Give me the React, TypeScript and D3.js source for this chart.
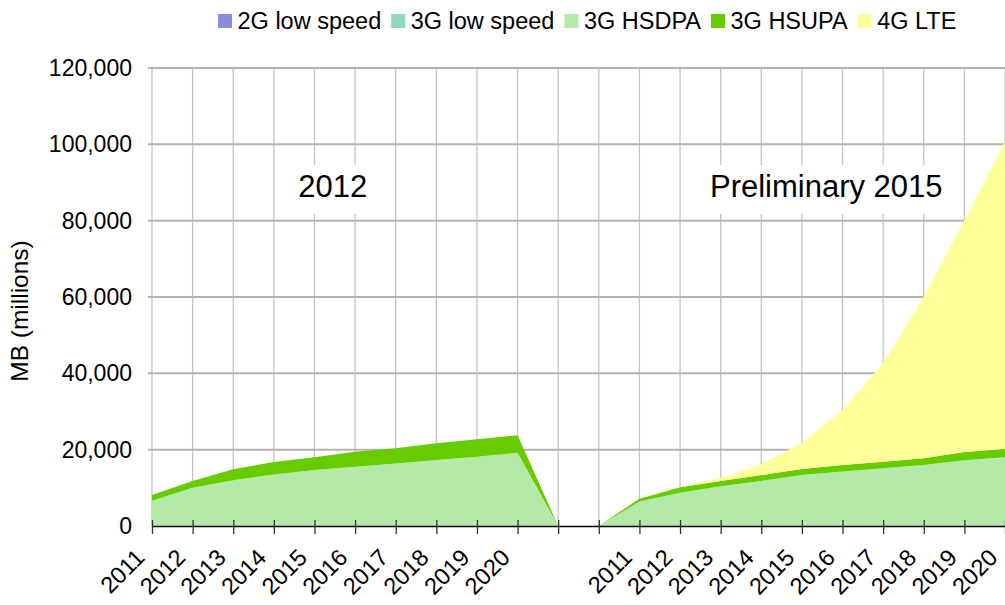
import { useEffect, useRef } from "react";
import * as d3 from "d3";

// categories: two runs of years separated by two blank slots
const categories = [
  "2011", "2012", "2013", "2014", "2015", "2016", "2017", "2018", "2019", "2020",
  "", "",
  "2011", "2012", "2013", "2014", "2015", "2016", "2017", "2018", "2019", "2020",
];

const lowSpeed2G = [0, 0, 0, 0, 0, 0, 0, 0, 0, 0, 0, 0, 0, 0, 0, 0, 0, 0, 0, 0, 0, 0];
const lowSpeed3G = [0, 0, 0, 0, 0, 0, 0, 0, 0, 0, 0, 0, 0, 0, 0, 0, 0, 0, 0, 0, 0, 0];
const hsdpa = [6600, 10000, 12000, 13500, 14700, 15500, 16400, 17300, 18150, 19200, 0, 0,
  6400, 8700, 10400, 11800, 13350, 14250, 15150, 16000, 17200, 18000];
const hsupa = [1500, 1800, 2850, 3300, 3300, 3950, 3950, 4350, 4550, 4600, 0, 0,
  750, 1450, 1400, 1550, 1600, 1750, 1700, 1750, 2200, 2200];
const lte = [0, 0, 0, 0, 0, 0, 0, 0, 0, 0, 0, 0,
  0, 150, 700, 2850, 6850, 14400, 25800, 42400, 60700, 80550];

const seriesNames = ["2G low speed", "3G low speed", "3G HSDPA", "3G HSUPA", "4G LTE"];
const seriesColors = ["#8a8ed8", "#8ed8c0", "#b3eaa8", "#66cc00", "#ffff99"];
const yTicks = [0, 20000, 40000, 60000, 80000, 100000, 120000];

const annotations = [
  { text: "2012", at: 4.45 },
  { text: "Preliminary 2015", at: 16.6 },
];

const FONT = "'Liberation Sans', Arial, sans-serif";

export default function App() {
  const svgRef = useRef<SVGSVGElement>(null);

  useEffect(() => {
    document.body.style.margin = "0";
    if (!svgRef.current) return;

    const width = 1005;
    const height = 605;
    const left = 152;
    const right = 1005;
    const top = 68;
    const bottom = 526;

    const svg = d3.select(svgRef.current);
    svg.selectAll("*").remove();
    svg.attr("width", width).attr("height", height).style("font-family", FONT);

    const idx = categories.map((_, i) => i);
    const x = d3.scalePoint<number>().domain(idx).range([left, right]);
    const y = d3.scaleLinear().domain([0, 120000]).range([bottom, top]);

    const table = idx.map((i) => ({
      i,
      [seriesNames[0]]: lowSpeed2G[i],
      [seriesNames[1]]: lowSpeed3G[i],
      [seriesNames[2]]: hsdpa[i],
      [seriesNames[3]]: hsupa[i],
      [seriesNames[4]]: lte[i],
    }));
    const stacked = d3.stack<any>().keys(seriesNames)(table);

    // grid
    const grid = svg.append("g");
    grid.selectAll("line.v")
      .data(idx)
      .join("line")
      .attr("x1", (d) => x(d)!)
      .attr("x2", (d) => x(d)!)
      .attr("y1", top)
      .attr("y2", bottom)
      .attr("stroke", "#c4c4c4")
      .attr("stroke-width", 1.3);
    grid.selectAll("line.h")
      .data(yTicks.filter((t) => t > 0))
      .join("line")
      .attr("x1", left - 4)
      .attr("x2", right)
      .attr("y1", (d) => y(d))
      .attr("y2", (d) => y(d))
      .attr("stroke", "#b3b3b3")
      .attr("stroke-width", 2);

    // annotation boxes
    annotations.forEach((a) => {
      const t = svg.append("text")
        .attr("x", x(0)! + (x(1)! - x(0)!) * a.at)
        .attr("y", 197)
        .attr("text-anchor", "middle")
        .style("font-size", "31px")
        .style("fill", "#000")
        .text(a.text);
      const bb = (t.node() as SVGTextElement).getBBox();
      svg.insert("rect", "text")
        .attr("x", bb.x - 8)
        .attr("y", 165)
        .attr("width", bb.width + 16)
        .attr("height", 49)
        .attr("fill", "#fff");
    });

    // areas
    const area = d3.area<any>()
      .x((d) => x(d.data.i)!)
      .y0((d) => y(d[0]))
      .y1((d) => y(d[1]));

    svg.append("g")
      .selectAll("path")
      .data(stacked)
      .join("path")
      .attr("fill", (_, i) => seriesColors[i])
      .attr("d", area);

    // x axis
    const xAxis = d3.axisBottom(x).tickSize(0).tickFormat(() => "");
    const xg = svg.append("g").attr("transform", `translate(0,${bottom})`).call(xAxis);
    xg.select(".domain").attr("stroke", "#000").attr("stroke-width", 1.5);
    xg.selectAll(".tick").append("line")
      .attr("y1", -6)
      .attr("y2", 8)
      .attr("stroke", "#333")
      .attr("stroke-width", 1.3);

    svg.append("g")
      .selectAll("text")
      .data(idx)
      .join("text")
      .attr("transform", (d) => `translate(${x(d)! - 6},${bottom + 33}) rotate(-45)`)
      .attr("text-anchor", "end")
      .style("font-size", "23.5px")
      .style("fill", "#000")
      .text((d) => categories[d]);

    // y labels
    svg.append("g")
      .selectAll("text")
      .data(yTicks)
      .join("text")
      .attr("x", 132)
      .attr("y", (d) => y(d))
      .attr("dy", "0.35em")
      .attr("text-anchor", "end")
      .style("font-size", "23px")
      .style("fill", "#000")
      .text((d) => d3.format(",")(d));

    svg.append("text")
      .attr("transform", `translate(28,311) rotate(-90)`)
      .attr("text-anchor", "middle")
      .style("font-size", "24.5px")
      .style("fill", "#000")
      .text("MB (millions)");

    // legend
    let lx = 218;
    const legend = svg.append("g");
    seriesNames.forEach((name, i) => {
      legend.append("rect")
        .attr("x", lx)
        .attr("y", 14)
        .attr("width", 14)
        .attr("height", 14)
        .attr("fill", seriesColors[i]);
      const t = legend.append("text")
        .attr("x", lx + 19.5)
        .attr("y", 29)
        .style("font-size", "23.5px")
        .style("fill", "#000")
        .text(name);
      lx += 19.5 + (t.node() as SVGTextElement).getComputedTextLength() + 10;
    });
  }, []);

  return <svg ref={svgRef} style={{ display: "block" }}></svg>;
}
